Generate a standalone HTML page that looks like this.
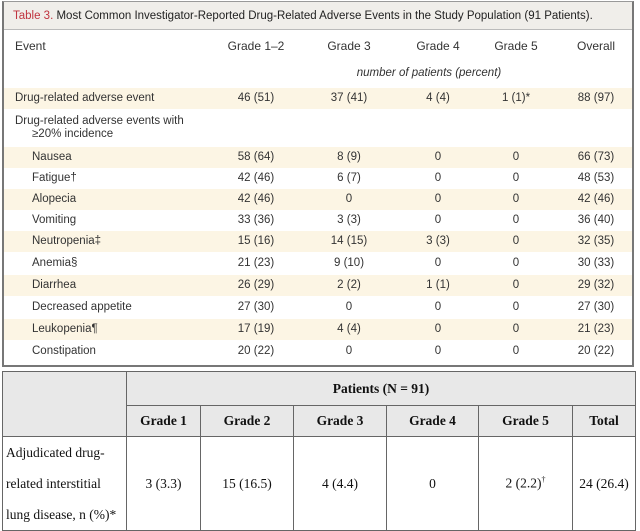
<!DOCTYPE html>
<html><head><meta charset="utf-8"><style>
body{margin:0;width:640px;height:531px;background:#fff;position:relative;overflow:hidden;font-family:"Liberation Sans",sans-serif;}
.box{position:absolute;left:2px;top:1px;width:632px;height:366px;border:2px solid #777;border-top:1px solid #999;box-sizing:border-box;}
.title{position:absolute;left:0;top:0;width:100%;height:28px;background:#f0eeea;border-bottom:1px solid #bbb;font-size:11.5px;line-height:28px;padding-left:9px;box-sizing:border-box;color:#222;white-space:nowrap;overflow:hidden;}
.title b{color:#c0343f;font-weight:normal;}
.r{position:absolute;left:0;width:100%;height:21px;font-size:11.5px;color:#333;}
.r.s{background:#fcf5e4;}
.r span{position:absolute;top:4px;white-space:nowrap;}
.c{transform:translateX(-50%);}
.t2{position:absolute;left:2px;top:371px;width:634px;height:160px;border-collapse:collapse;font-family:"Liberation Serif",serif;font-size:13.5px;color:#111;}
.t2 td{border:1px solid #666;text-align:center;padding:0;}
.t2 .h{background:#e8e8e8;font-weight:bold;}
</style></head><body>
<div class="box">
<div class="title"><b>Table 3.</b> Most Common Investigator-Reported Drug-Related Adverse Events in the Study Population (91 Patients).</div>
<div class="r" style="top:33px;font-size:12px"><span style="left:11px">Event</span><span class="c" style="left:252px">Grade 1–2</span><span class="c" style="left:345px">Grade 3</span><span class="c" style="left:434px">Grade 4</span><span class="c" style="left:512px">Grade 5</span><span class="c" style="left:592px">Overall</span></div>
<div class="r" style="top:61px"><span class="c" style="left:425px;font-style:italic">number of patients (percent)</span></div>
<div class="r" style="top:109px;height:34px"><span style="left:11px">Drug-related adverse events with</span><span style="left:28px;top:17px">≥20% incidence</span></div>
</div>
<table class="t2">
<tr style="height:34px"><td class="h" rowspan="2" style="width:123px"></td><td class="h" colspan="6">Patients (N = 91)</td></tr>
<tr style="height:31px" class="h"><td class="h" style="width:73px">Grade 1</td><td class="h" style="width:92px">Grade 2</td><td class="h" style="width:92px">Grade 3</td><td class="h" style="width:91px">Grade 4</td><td class="h" style="width:93px">Grade 5</td><td class="h">Total</td></tr>
<tr><td style="text-align:left;line-height:31px;padding-left:3px">Adjudicated drug-<br>related interstitial<br>lung disease, n (%)*</td><td>3 (3.3)</td><td>15 (16.5)</td><td>4 (4.4)</td><td>0</td><td>2 (2.2)<sup style="font-size:8px">†</sup></td><td>24 (26.4)</td></tr>
</table>
<script>
const events=["Drug-related adverse event","Nausea","Fatigue†","Alopecia","Vomiting","Neutropenia‡","Anemia§","Diarrhea","Decreased appetite","Leukopenia¶","Constipation"];
const g12=["46 (51)","58 (64)","42 (46)","42 (46)","33 (36)","15 (16)","21 (23)","26 (29)","27 (30)","17 (19)","20 (22)"];
const g3=["37 (41)","8 (9)","6 (7)","0","3 (3)","14 (15)","9 (10)","2 (2)","0","4 (4)","0"];
const g4=["4 (4)","0","0","0","0","3 (3)","0","1 (1)","0","0","0"];
const g5=["1 (1)*","0","0","0","0","0","0","0","0","0","0"];
const overall=["88 (97)","66 (73)","48 (53)","42 (46)","36 (40)","32 (35)","30 (33)","29 (32)","27 (30)","21 (23)","20 (22)"];
const box=document.querySelector('.box');
const tops=[86,145,166,187,208,229,251,273,295,317,339];
const cols=[[g12,252],[g3,345],[g4,434],[g5,512],[overall,592]];
events.forEach((e,i)=>{
 const r=document.createElement('div');
 r.className='r'+((i===0||i%2===1)?' s':'');
 r.style.top=tops[i]+'px';
 
 
 let h='<span style="left:'+(i===0?11:28)+'px">'+e+'</span>';
 cols.forEach(([arr,x])=>{h+='<span class="c" style="left:'+x+'px">'+arr[i]+'</span>';});
 r.innerHTML=h;
 box.appendChild(r);
});
</script>
</body></html>
